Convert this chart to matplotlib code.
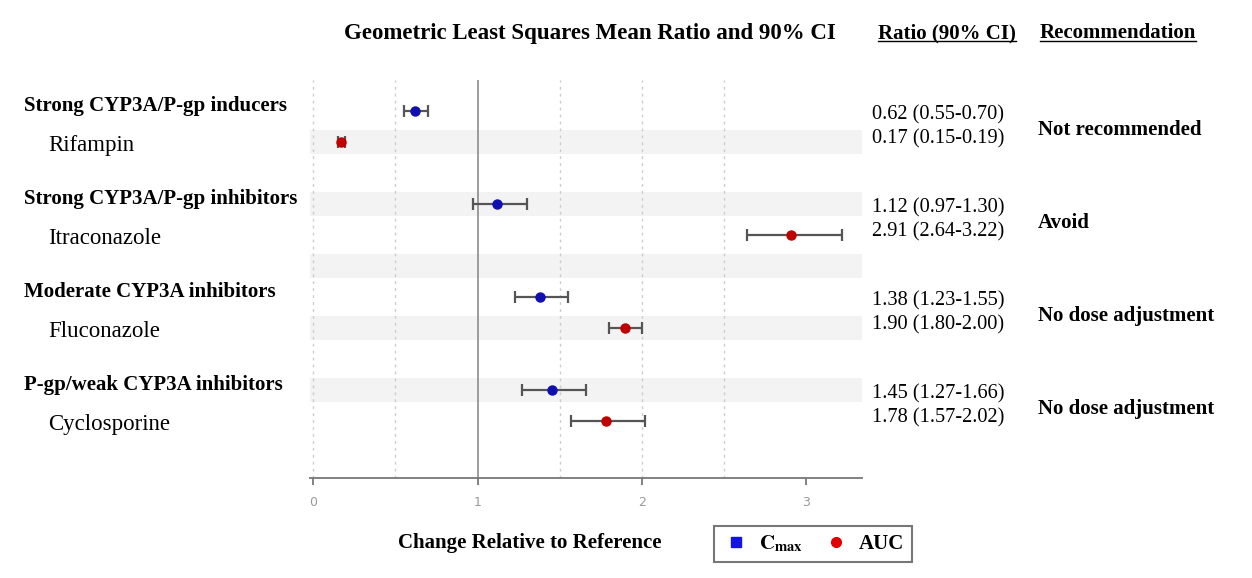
import matplotlib.pyplot as plt
import matplotlib.transforms as mtransforms
from matplotlib.lines import Line2D

plt.rcParams['font.family'] = 'Liberation Serif'
plt.rcParams['mathtext.fontset'] = 'stix'

# interaction data
groups = ["Strong CYP3A/P-gp inducers", "Strong CYP3A/P-gp inhibitors",
          "Moderate CYP3A inhibitors", "P-gp/weak CYP3A inhibitors"]
drugs = ["Rifampin", "Itraconazole", "Fluconazole", "Cyclosporine"]
cmax_ratio = [0.62, 1.12, 1.38, 1.45]
cmax_lo = [0.55, 0.97, 1.23, 1.27]
cmax_hi = [0.70, 1.30, 1.55, 1.66]
auc_ratio = [0.17, 2.91, 1.90, 1.78]
auc_lo = [0.15, 2.64, 1.80, 1.57]
auc_hi = [0.19, 3.22, 2.00, 2.02]
recommendations = ["Not recommended", "Avoid", "No dose adjustment", "No dose adjustment"]
x_ticks = [0, 1, 2, 3]

W, H = 1252, 578
fig = plt.figure(figsize=(W / 100, H / 100), dpi=100)
ax = fig.add_axes([310 / W, 1 - 478 / H, 552 / W, 398 / H])

cmax_rows = [3 * i for i in range(len(drugs))]
auc_rows = [3 * i + 1 for i in range(len(drugs))]

# alternating shaded rows
for r in range(1, 11, 2):
    ax.axhspan(r - 0.4, r + 0.4, color='#f3f3f3', zorder=0, lw=0)

for gx in [0, 0.5, 1.5, 2, 2.5]:
    ax.axvline(gx, color='#cccccc', ls=(0, (2, 3)), lw=1, zorder=1)
ax.axvline(1, color='#8c8c8c', lw=1.2, zorder=1)

err_kw = dict(fmt='o', ecolor='#555555', elinewidth=1.6, capsize=4, capthick=1.6,
              markersize=6.5, zorder=3)
ax.errorbar(cmax_ratio, cmax_rows,
            xerr=[[m - l for m, l in zip(cmax_ratio, cmax_lo)],
                  [h - m for m, h in zip(cmax_ratio, cmax_hi)]],
            color='#1010b0', **err_kw)
ax.errorbar(auc_ratio, auc_rows,
            xerr=[[m - l for m, l in zip(auc_ratio, auc_lo)],
                  [h - m for m, h in zip(auc_ratio, auc_hi)]],
            color='#c00000', **err_kw)

ax.set_xlim(-0.02, 3.34)
ax.set_ylim(11.84, -1)
for s in ['top', 'right', 'left']:
    ax.spines[s].set_visible(False)
ax.spines['bottom'].set_color('#777777')
ax.spines['bottom'].set_linewidth(1.3)
ax.set_yticks([])
ax.set_xticks(x_ticks)
ax.tick_params(axis='x', colors='#777777', length=5, width=1.3, labelsize=9,
               labelcolor='#999999', pad=8)
for lbl in ax.get_xticklabels():
    lbl.set_family('DejaVu Sans')

# left labels and right-hand columns
trans = mtransforms.blended_transform_factory(fig.transFigure, ax.transData)
fs = 15
for i in range(len(drugs)):
    ax.text(24 / W, cmax_rows[i] - 0.15, groups[i], transform=trans, fontsize=fs,
            fontweight='bold', va='center', ha='left')
    ax.text(48 / W, auc_rows[i] + 0.12, drugs[i], transform=trans, fontsize=16.5,
            va='center', ha='left')
    ax.text(872 / W, cmax_rows[i] + 0.12,
            f"{cmax_ratio[i]:.2f} ({cmax_lo[i]:.2f}-{cmax_hi[i]:.2f})",
            transform=trans, fontsize=14.7, va='center', ha='left')
    ax.text(872 / W, auc_rows[i] - 0.1,
            f"{auc_ratio[i]:.2f} ({auc_lo[i]:.2f}-{auc_hi[i]:.2f})",
            transform=trans, fontsize=14.7, va='center', ha='left')
    ax.text(1038 / W, (cmax_rows[i] + auc_rows[i]) / 2 + 0.1, recommendations[i],
            transform=trans, fontsize=fs, fontweight='bold', va='center', ha='left')

fig.text(590 / W, 1 - 33 / H, "Geometric Least Squares Mean Ratio and 90% CI",
         fontsize=16.5, fontweight='bold', ha='center', va='center')
h_ratio = fig.text(878 / W, 1 - 33 / H, "Ratio (90% CI)", fontsize=fs,
                   fontweight='bold', ha='left', va='center')
h_rec = fig.text(1040 / W, 1 - 33 / H, "Recommendation", fontsize=fs,
                 fontweight='bold', ha='left', va='center')
fig.text(530 / W, 1 - 543 / H, "Change Relative to Reference", fontsize=fs,
         fontweight='bold', ha='center', va='center')

# underline the column headers
fig.canvas.draw()
for t in [h_ratio, h_rec]:
    bb = t.get_window_extent().transformed(fig.transFigure.inverted())
    fig.add_artist(Line2D([bb.x0, bb.x1], [bb.y0 + 0.003, bb.y0 + 0.003],
                          transform=fig.transFigure, color='black', lw=1))

handles = [
    Line2D([], [], marker='s', ls='none', color='#1414e0', markersize=7),
    Line2D([], [], marker='o', ls='none', color='#e00000', markersize=7),
]
leg = fig.legend(handles, [r"$\mathbf{C}_{\mathbf{max}}$", "AUC"], ncol=2,
                 loc='center', bbox_to_anchor=(813 / W, 1 - 544 / H),
                 frameon=True, fancybox=False, edgecolor='#555555',
                 prop={'weight': 'bold', 'size': 15}, handletextpad=0.4,
                 handlelength=1.4, columnspacing=0.9, borderpad=0.35,
                 borderaxespad=0)
leg.get_frame().set_linewidth(1.5)

fig.savefig('out.png', dpi=100)
